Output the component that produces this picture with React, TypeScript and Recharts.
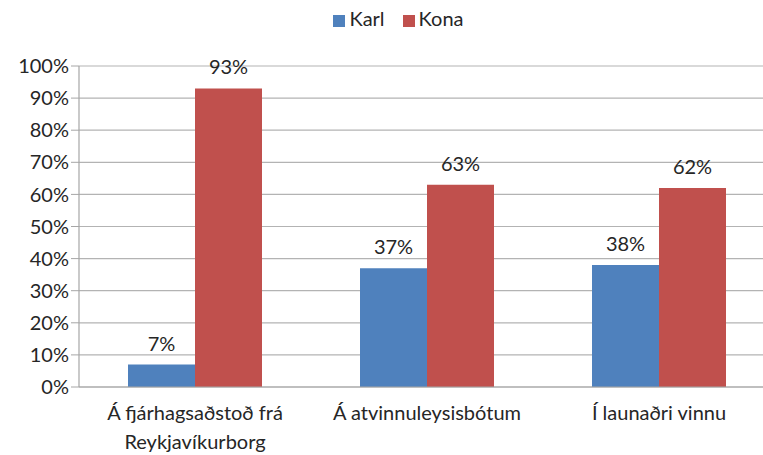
import { BarChart, Bar, XAxis, YAxis, CartesianGrid, Legend, LabelList } from "recharts";

const categories = ["Á fjárhagsaðstoð frá Reykjavíkurborg", "Á atvinnuleysisbótum", "Í launaðri vinnu"];
const tickLines = [["Á fjárhagsaðstoð frá", "Reykjavíkurborg"], ["Á atvinnuleysisbótum"], ["Í launaðri vinnu"]];
const karl = [7, 37, 38];
const kona = [93, 63, 62];
const yTicks = [0, 10, 20, 30, 40, 50, 60, 70, 80, 90, 100];

const data = categories.map((name, i) => ({ name, karl: karl[i], kona: kona[i] }));

const FONT = "Lato, 'Open Sans', sans-serif";
const TEXT = "#262626";
const FS = 20;

const CategoryTick = (props: any) => {
  const { x, y, index } = props;
  const lines = tickLines[index] || [];
  return (
    <g transform={`translate(${x},${y})`}>
      {lines.map((l, i) => (
        <text key={i} x={0} y={i * 29} dy={25} textAnchor="middle" fill={TEXT} fontSize={FS} fontFamily={FONT}>
          {l}
        </text>
      ))}
    </g>
  );
};

const App = () => {
  return (
    <div style={{ position: "absolute", left: 0, top: 0, width: 763, height: 455, overflow: "hidden", background: "#fff" }}>
      <BarChart
        width={775}
        height={455}
        data={data}
        margin={{ top: 42, right: 0, left: 0, bottom: 0 }}
        barGap={0}
        barCategoryGap={49}
      >
        <CartesianGrid vertical={false} stroke="#b3b3b3" strokeWidth={1.2} />
        <XAxis
          dataKey="name"
          height={68}
          tick={<CategoryTick />}
          tickLine={false}
          axisLine={{ stroke: "#a6a6a6", strokeWidth: 1.2 }}
          interval={0}
        />
        <YAxis
          width={79}
          domain={[0, 100]}
          ticks={yTicks}
          tickFormatter={(v) => `${v}%`}
          tick={{ fontSize: FS, fill: TEXT, fontFamily: FONT }}
          tickLine={{ stroke: "#a6a6a6" }}
          tickSize={8}
          axisLine={{ stroke: "#a6a6a6", strokeWidth: 1.2 }}
          interval={0}
        />
        <Legend
          verticalAlign="top"
          align="center"
          iconType="square"
          iconSize={12}
          wrapperStyle={{ position: "absolute", top: 6, left: 10, width: 795, fontFamily: FONT, fontSize: FS, color: TEXT }}
          formatter={(v) => <span style={{ color: TEXT, marginRight: 8 }}>{v}</span>}
        />
        <Bar dataKey="karl" name="Karl" fill="#4F81BD" isAnimationActive={false}>
          <LabelList dataKey="karl" position="top" offset={14} formatter={(v: any) => `${v}%`} fill={TEXT} fontSize={FS} fontFamily={FONT} />
        </Bar>
        <Bar dataKey="kona" name="Kona" fill="#C0504D" isAnimationActive={false}>
          <LabelList dataKey="kona" position="top" offset={14} formatter={(v: any) => `${v}%`} fill={TEXT} fontSize={FS} fontFamily={FONT} />
        </Bar>
      </BarChart>
    </div>
  );
};

export default App;
